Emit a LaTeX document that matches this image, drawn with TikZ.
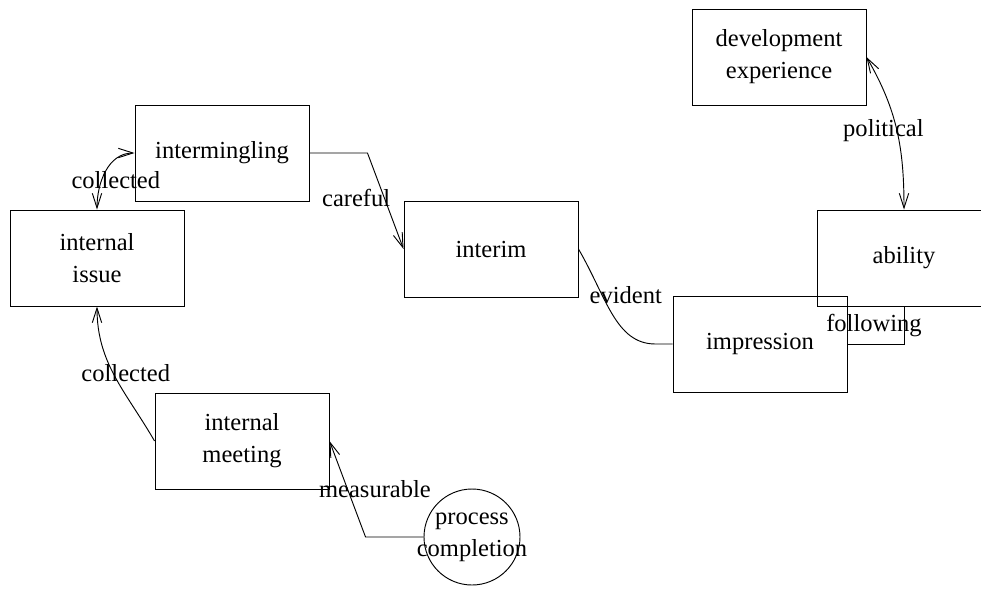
\documentclass[tikz,border=0pt]{standalone}
\usepackage{fontspec}
\setmainfont{Liberation Serif}
\usetikzlibrary{arrows.meta}

\begin{document}
\begin{tikzpicture}[x=0.75pt,y=0.75pt,line width=0.7pt]
\tikzset{box/.style={draw,rectangle,minimum width=130.5pt,minimum height=72pt,align=center,inner sep=0pt},
>={Straight Barb[length=11pt,width=7pt]},
font=\fontsize{18.4}{24}\selectfont}
\useasboundingbox (0,0) rectangle (981,-594);
\clip (0,0) rectangle (981,-594);

\node (dev) at (779,-57) [box] {development\\experience};
\node (mingle) at (222,-153) [box] {intermingling};
\node (issue) at (97,-258) [box] {internal\\issue};
\node (interim) at (491,-249) [box] {interim};
\node (ability) at (904,-258) [box] {ability};
\node (impress) at (760,-344) [box] {impression};
\node (meeting) at (242,-441) [box] {internal\\meeting};
\node (proc) at (472,-537) [draw,circle,minimum size=72pt,label={[align=center]center:process\\completion}] {};

\path
(mingle.west) edge [<->, out=180, in=90] node[pos=0.5,xshift=7.5pt,yshift=-6.5pt] {collected} (issue.north)
(dev.east) edge [<->, out=-60, in=90] node[pos=0.5,xshift=-10pt] {political} (ability.north)
(meeting.west) edge [->, out=120, in=-90] node[pos=0.5,xshift=8pt,yshift=3pt] {collected} (issue.south);

\draw[->] (mingle.east) -- ++(58,0) -- (interim.west) node[pos=0.5,xshift=-22pt,yshift=2pt] {careful};
\draw (interim.east) .. controls +(28,-48) and +(-40,0) .. ++(77,-95) node[pos=0.5,xshift=10pt,yshift=14.6pt] {evident} -- (impress.west);
\draw (impress.east) -| node[pos=0.5,xshift=-22.5pt,yshift=14pt] {following} (ability.south);
\draw[->] (proc.west) -- ++(-58,0) -- (meeting.east) node[pos=0.5,xshift=20.6pt] {measurable};
\end{tikzpicture}
\end{document}
